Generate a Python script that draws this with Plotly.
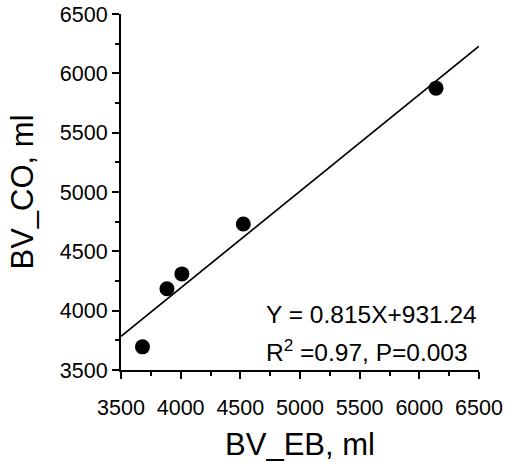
import plotly.graph_objects as go

# Data
bv_eb = [3680, 3885, 4010, 4525, 6140]
bv_co = [3695, 4185, 4310, 4730, 5875]
slope = 0.815
intercept = 931.24
fit_x = [3500, 6500]
fit_y = [slope * v + intercept for v in fit_x]
tick_vals = [3500, 4000, 4500, 5000, 5500, 6000, 6500]
tick_text = ["3500", "4000", "4500", "5000", "5500", "6000", "6500"]

FONT = "Liberation Sans, Arial, sans-serif"

fig = go.Figure()
fig.add_trace(go.Scatter(x=fit_x, y=fit_y, mode="lines",
                         line=dict(color="black", width=1.6), hoverinfo="skip"))
fig.add_trace(go.Scatter(x=bv_eb, y=bv_co, mode="markers",
                         marker=dict(color="black", size=15, line=dict(width=0))))

axis_common = dict(
    showgrid=False, zeroline=False, showline=True, linecolor="black", linewidth=2,
    ticks="outside", ticklen=7, tickwidth=2, tickcolor="black",
    tickvals=tick_vals, ticktext=tick_text, range=[3500, 6500],
    tickfont=dict(family=FONT, size=21.5, color="black"),
    minor=dict(ticks="outside", ticklen=4, tickwidth=2, tickcolor="black", dtick=250, tick0=3500),
    automargin=False,
)

fig.update_layout(
    width=507, height=462,
    margin=dict(l=121, r=28, t=14, b=92),
    plot_bgcolor="white", paper_bgcolor="white",
    showlegend=False,
    font=dict(family=FONT, color="black"),
    xaxis=dict(**axis_common, ticklabelstandoff=10,
               title=dict(text="BV_EB, ml", font=dict(family=FONT, size=31, color="black"), standoff=15)),
    yaxis=dict(**axis_common,
               title=dict(text="BV_CO, ml", font=dict(family=FONT, size=31, color="black"), standoff=17)),
)

fig.add_annotation(xref="paper", yref="paper", x=0.40, y=0.155, xanchor="left", yanchor="middle",
                   text="Y = 0.815X+931.24", showarrow=False,
                   font=dict(family=FONT, size=24.5, color="black"))
fig.add_annotation(xref="paper", yref="paper", x=0.40, y=0.056, xanchor="left", yanchor="middle",
                   text="R<sup>2</sup> =0.97, P=0.003", showarrow=False,
                   font=dict(family=FONT, size=24.5, color="black"))

fig.write_html("out.html")
